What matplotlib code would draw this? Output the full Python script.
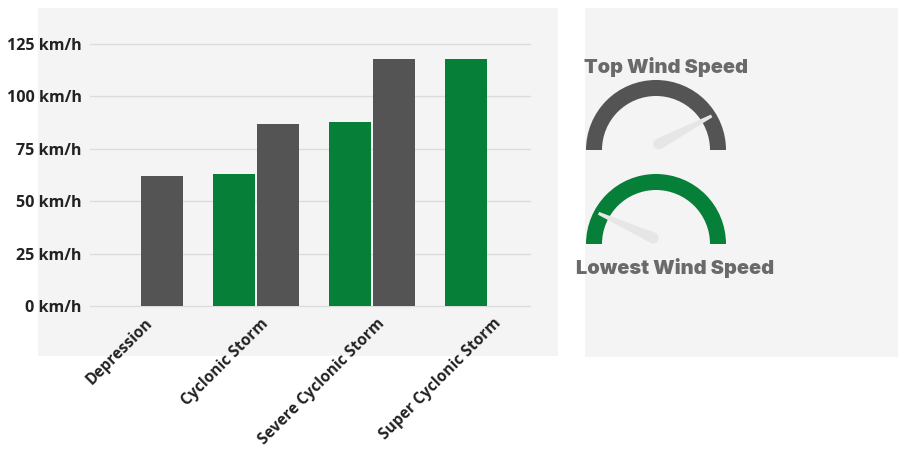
import matplotlib
matplotlib.use("Agg")
import matplotlib.pyplot as plt
import numpy as np
from matplotlib.patches import Wedge, Polygon, Circle, Rectangle

# ---- data ----
categories = ["Depression", "Cyclonic Storm", "Severe Cyclonic Storm", "Super Cyclonic Storm"]
lowest_speed = [None, 63, 88, 118]   # green series
top_speed = [62, 87, 118, None]      # gray series
y_ticks = [0, 25, 50, 75, 100, 125]
y_tick_labels = ["0 km/h", "25 km/h", "50 km/h", "75 km/h", "100 km/h", "125 km/h"]
gauge_titles = ["Top Wind Speed", "Lowest Wind Speed"]
gauge_needle_fraction = [0.845, 0.135]  # needle position along the half dial (0=left, 1=right)

GREEN = "#067f38"
GRAY = "#545454"
PANEL = "#f4f4f4"
W, H = 899, 450

fig = plt.figure(figsize=(W / 100, H / 100), dpi=100)
fig.patch.set_facecolor("white")

def fx(px):
    return px / W

def fy(py):
    return 1 - py / H

# panels
for (x0, y0, x1, y1) in [(38, 8, 558, 356), (585, 8, 898, 357)]:
    fig.patches.append(Rectangle((fx(x0), fy(y1)), fx(x1 - x0), (y1 - y0) / H,
                                 transform=fig.transFigure, facecolor=PANEL,
                                 edgecolor="none", zorder=-10))

# ---- bar chart ----
ax = fig.add_axes([fx(90), fy(306), fx(530 - 90), (306 - 44) / H])
ax.set_facecolor("none")
x = np.arange(len(categories))
bw = 0.362
off = 0.19
for i in range(len(categories)):
    if lowest_speed[i] is not None:
        ax.bar(x[i] - off, lowest_speed[i], width=bw, color=GREEN, zorder=3)
    if top_speed[i] is not None:
        ax.bar(x[i] + off, top_speed[i], width=bw, color=GRAY, zorder=3)
ax.set_xlim(-0.43, 3.36)
ax.set_ylim(0, 125)
ax.set_yticks(y_ticks)
ax.set_yticklabels(y_tick_labels, fontsize=11.6, fontweight="bold", family="Open Sans", color="#222222")
ax.set_xticks(x + 0.04)
ax.set_xticklabels(categories, rotation=45, ha="right", rotation_mode="anchor",
                   fontsize=11.2, fontweight="bold", family="Open Sans", color="#222222")
ax.tick_params(length=0, pad=6)
ax.tick_params(axis="x", pad=7)
for s in ax.spines.values():
    s.set_visible(False)
for t in y_ticks:
    ax.axhline(t, color="#dcdcdc", lw=1, zorder=1, clip_on=False)

# ---- gauges ----
gax = fig.add_axes([fx(585), fy(357), fx(898 - 585), (357 - 8) / H])
gax.set_xlim(585, 898)
gax.set_ylim(H - 357, H - 8)
gax.set_aspect("equal")
gax.axis("off")

centers = [(656, H - 150), (656, H - 244)]
colors = [GRAY, GREEN]
for (cx, cy), col, frac in zip(centers, colors, gauge_needle_fraction):
    gax.add_patch(Wedge((cx, cy), 70, 0, 180, width=16, facecolor=col, edgecolor="none", zorder=2))
    ang = np.deg2rad(180 * (1 - frac))
    bx, by = cx + 3 * np.cos(ang), cy + 6
    L = 60
    ux, uy = np.cos(ang), np.sin(ang)
    nx, ny = -uy, ux
    base_w, tip_w = 5.5, 1.5
    tx, ty = bx + L * ux, by + L * uy
    pts = [(bx + nx * base_w, by + ny * base_w), (tx + nx * tip_w, ty + ny * tip_w),
           (tx - nx * tip_w, ty - ny * tip_w), (bx - nx * base_w, by - ny * base_w)]
    gax.add_patch(Polygon(pts, closed=True, facecolor="#e6e6e6", edgecolor="none", zorder=3))
    gax.add_patch(Circle((bx, by), base_w, facecolor="#e6e6e6", edgecolor="none", zorder=3))

fig.text(fx(666), fy(67), gauge_titles[0], ha="center", va="center", fontsize=14.4,
         fontweight="black", family="Inter", color="#6a6a6a")
fig.text(fx(675.5), fy(268), gauge_titles[1], ha="center", va="center", fontsize=14.4,
         fontweight="black", family="Inter", color="#6a6a6a")

fig.savefig("out.png", dpi=100)
